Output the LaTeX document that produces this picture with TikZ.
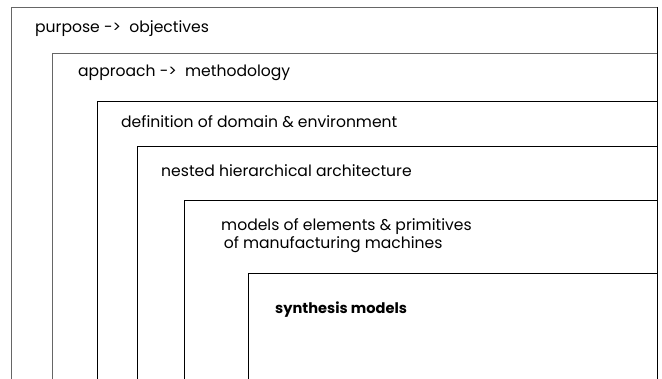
\documentclass[tikz,border=0pt]{standalone}
\usepackage{fontspec}
\setmainfont{Poppins}
\usepackage{tikz}

\begin{document}
\begin{tikzpicture}[x=1pt,y=-1pt,
  frame/.style={line width=0.9pt},
  outer/.style={frame, black!60},
  label/.style={anchor=west, inner sep=0pt, font=\fontsize{15.6}{18}\selectfont}]
\useasboundingbox (0,0) rectangle (662,379);

% right edge shared by all frames
\draw[frame] (657,7) -- (657,379);

% purpose
\draw[outer] (11,379) -- (11,7) -- (657,7);
\node[label] (purpose) at (35,29) {purpose -> \ objectives};

% approach
\draw[outer] (52,379) -- (52,53) -- (657,53);
\node[label] (approach) at (78,73) {approach -> \ methodology};

% domain
\draw[frame] (97,379) -- (97,101) -- (657,101);
\node[label] (domain) at (121,122) {definition of domain \& environment};

% architecture
\draw[frame] (137,379) -- (137,146) -- (657,146);
\node[label] (arch) at (161,171) {nested hierarchical architecture};

% models of elements
\draw[frame] (184,379) -- (184,200) -- (657,200);
\node[label, align=left] (elements) at (221,236) {models of elements \& primitives\\ \,of manufacturing machines};

% synthesis
\draw[frame] (248,379) -- (248,273) -- (657,273);
\node[label, font=\fontsize{14.6}{17}\selectfont\bfseries] (synth) at (275,310) {synthesis models};
\end{tikzpicture}
\end{document}
